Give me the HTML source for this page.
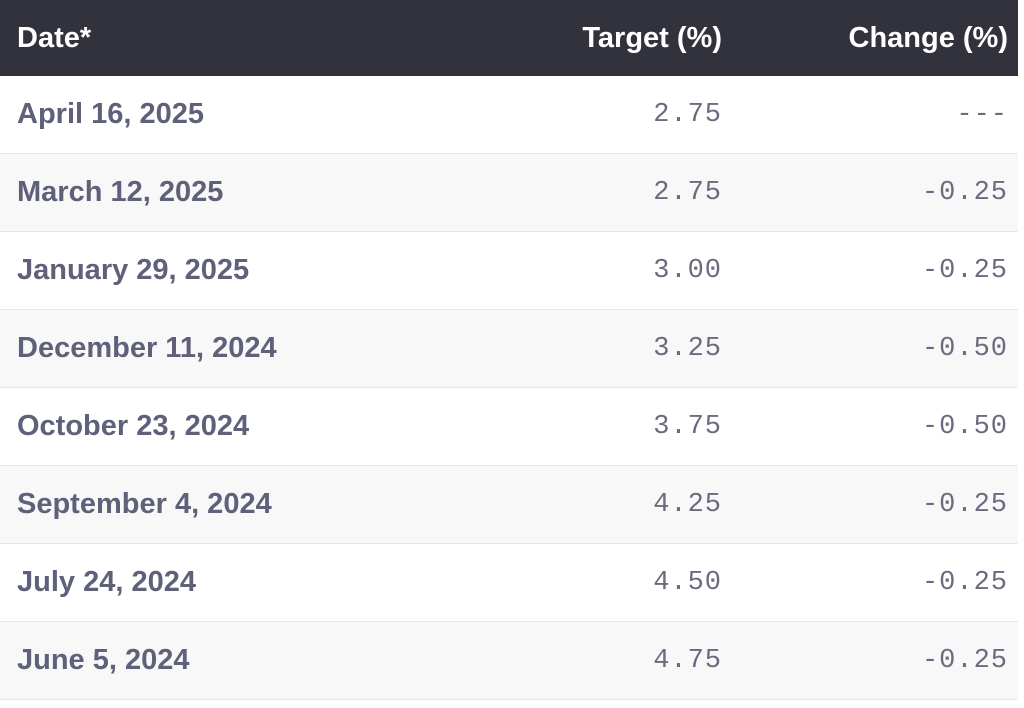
<!DOCTYPE html>
<html><head><meta charset="utf-8"><style>
html,body{margin:0;padding:0;background:#fff;width:1024px;height:708px;overflow:hidden}
table{border-collapse:collapse;width:1018px;table-layout:fixed;font-family:"Liberation Sans",sans-serif}
th{background:#32323d;color:#fff;font-weight:bold;font-size:29px;height:76px;padding:0;text-align:right}
th.d{text-align:left;padding-left:17px}
td{height:77px;border-bottom:1px solid #e6e6e6;padding:0;font-size:29px}
tr:nth-child(even) td{background:#f8f8f8}
td.d{color:#5f607a;font-weight:bold;padding-left:17px}
td.n{font-family:"Liberation Mono",monospace;font-size:27px;color:#6b6b80;text-align:right;letter-spacing:1px}
.t{padding-right:0}
.c{padding-right:10px}
</style></head><body>
<table>
<colgroup><col style="width:400px"><col style="width:322px"><col style="width:296px"></colgroup>
<thead><tr>
<th class="d">Date*</th>
<th class="t">Target (%)</th>
<th class="c">Change (%)</th>
</tr></thead>
<tbody>
<tr><td class="d">April 16, 2025</td><td class="n t">2.75</td><td class="n c">---</td></tr>
<tr><td class="d">March 12, 2025</td><td class="n t">2.75</td><td class="n c">-0.25</td></tr>
<tr><td class="d">January 29, 2025</td><td class="n t">3.00</td><td class="n c">-0.25</td></tr>
<tr><td class="d">December 11, 2024</td><td class="n t">3.25</td><td class="n c">-0.50</td></tr>
<tr><td class="d">October 23, 2024</td><td class="n t">3.75</td><td class="n c">-0.50</td></tr>
<tr><td class="d">September 4, 2024</td><td class="n t">4.25</td><td class="n c">-0.25</td></tr>
<tr><td class="d">July 24, 2024</td><td class="n t">4.50</td><td class="n c">-0.25</td></tr>
<tr><td class="d">June 5, 2024</td><td class="n t">4.75</td><td class="n c">-0.25</td></tr>
</tbody></table>
</body></html>
